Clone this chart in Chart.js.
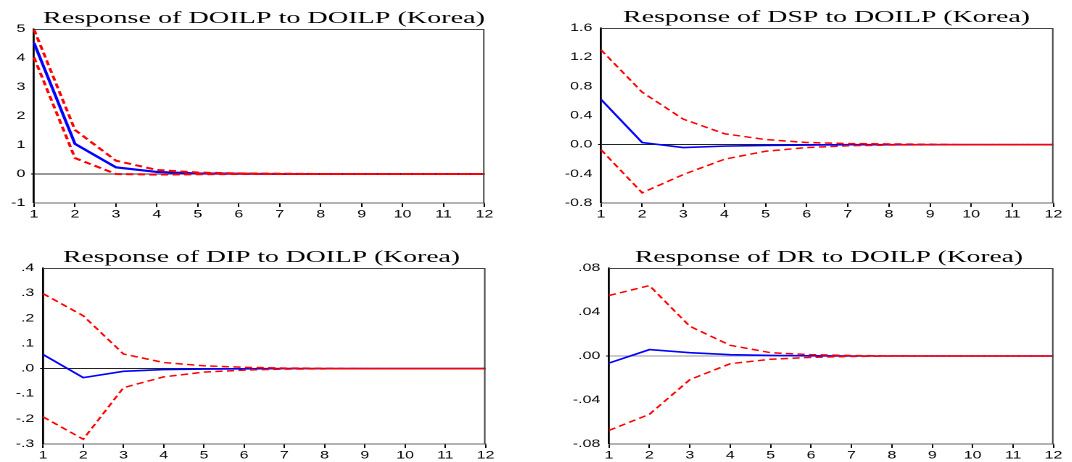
<!DOCTYPE html>
<html>
<head>
<meta charset="utf-8">
<script src="https://cdn.jsdelivr.net/npm/chart.js@4/dist/chart.umd.min.js"></script>
<style>
  html, body { margin: 0; padding: 0; background: #fff; }
  body { width: 1072px; height: 462px; position: relative; overflow: hidden; }
  .wrap { position: absolute; transform-origin: 0 0; }
</style>
</head>
<body>
<div class="wrap" id="w1"><canvas id="c1"></canvas></div>
<div class="wrap" id="w2"><canvas id="c2"></canvas></div>
<div class="wrap" id="w3"><canvas id="c3"></canvas></div>
<div class="wrap" id="w4"><canvas id="c4"></canvas></div>
<script>
// periods after the shock
var periods = ['1', '2', '3', '4', '5', '6', '7', '8', '9', '10', '11', '12'];

// response of DOILP
var doilpResp  = [4.52, 1.04, 0.23, 0.07, 0.02, 0.01, 0, 0, 0, 0, 0, 0];
var doilpUpper = [4.98, 1.52, 0.46, 0.14, 0.05, 0.02, 0.01, 0, 0, 0, 0, 0];
var doilpLower = [4.02, 0.55, 0.0, -0.02, -0.01, 0, 0, 0, 0, 0, 0, 0];
var doilpTicks = ['-1', '0', '1', '2', '3', '4', '5'];

// response of DSP
var dspResp  = [0.62, 0.03, -0.04, -0.02, -0.01, -0.005, 0, 0, 0, 0, 0, 0];
var dspUpper = [1.30, 0.72, 0.35, 0.15, 0.07, 0.03, 0.015, 0.01, 0.005, 0, 0, 0];
var dspLower = [-0.07, -0.66, -0.41, -0.20, -0.09, -0.04, -0.015, -0.005, 0, 0, 0, 0];
var dspTicks = ['-0.8', '-0.4', '0.0', '0.4', '0.8', '1.2', '1.6'];

// response of DIP
var dipResp  = [0.056, -0.036, -0.011, -0.004, -0.002, -0.001, 0, 0, 0, 0, 0, 0];
var dipUpper = [0.298, 0.21, 0.058, 0.024, 0.011, 0.005, 0.002, 0.001, 0, 0, 0, 0];
var dipLower = [-0.192, -0.281, -0.076, -0.033, -0.014, -0.006, -0.002, -0.001, 0, 0, 0, 0];
var dipTicks = ['-.3', '-.2', '-.1', '.0', '.1', '.2', '.3', '.4'];

// response of DR
var drResp  = [-0.0064, 0.0058, 0.003, 0.0012, 0.0005, 0.0002, 0, 0, 0, 0, 0, 0];
var drUpper = [0.055, 0.064, 0.027, 0.0097, 0.003, 0.0012, 0.0004, 0.0001, 0, 0, 0, 0];
var drLower = [-0.0676, -0.053, -0.0215, -0.007, -0.003, -0.0012, -0.0004, 0, 0, 0, 0, 0];
var drTicks = ['-.08', '-.04', '.00', '.04', '.08'];

// the source picture is stretched sideways, so is this one
var S = 1.45;

Chart.defaults.font.family = '"Liberation Sans", Arial, sans-serif';
Chart.defaults.font.size = 11;
Chart.defaults.color = '#000';

function MontaPainel(n, box, plot, titulo, tickLabels, yMin, yMax, passo, resp, upper, lower, corZero, espessura) {
    var wrap = document.getElementById('w' + n);
    wrap.style.left = box.x + 'px';
    wrap.style.top = box.y + 'px';
    wrap.style.transform = 'scaleX(' + S + ')';
    var canvas = document.getElementById('c' + n);
    canvas.width = Math.round(box.w / S);
    canvas.height = box.h;

    var tituloPlugin = {
        id: 'tituloPainel',
        afterDraw: function(chart) {
            var ctx = chart.ctx, ca = chart.chartArea;
            ctx.save();
            // frame: top and right
            ctx.strokeStyle = '#444';
            ctx.lineWidth = 1;
            ctx.beginPath();
            ctx.moveTo(ca.left, ca.top + 0.5);
            ctx.lineTo(ca.right - 0.5, ca.top + 0.5);
            ctx.lineTo(ca.right - 0.5, ca.bottom);
            ctx.stroke();
            // title, stretched to the width it has in the source
            ctx.fillStyle = '#000';
            ctx.font = '17px "Liberation Serif", "Times New Roman", serif';
            ctx.textAlign = 'left';
            ctx.textBaseline = 'alphabetic';
            var largura = ctx.measureText(titulo).width;
            var fator = (plot.tw / S) / largura;
            ctx.translate((plot.tx - box.x) / S, ca.top - 6);
            ctx.scale(fator, 1);
            ctx.fillText(titulo, 0, 0);
            ctx.restore();
        }
    };

    new Chart(canvas, {
        type: 'line',
        data: {
            labels: periods,
            datasets: [
                { data: upper, borderColor: '#ff0000', borderWidth: espessura, borderDash: [5, 3], pointRadius: 0, fill: false, tension: 0 },
                { data: lower, borderColor: '#ff0000', borderWidth: espessura, borderDash: [5, 3], pointRadius: 0, fill: false, tension: 0 },
                { data: resp, borderColor: '#0000ff', borderWidth: espessura + 0.1, pointRadius: 0, fill: false, tension: 0 }
            ]
        },
        options: {
            responsive: false,
            animation: false,
            devicePixelRatio: 2,
            layout: { padding: { left: 0, top: plot.t - box.y, right: (box.x + box.w - plot.r) / S, bottom: 0 } },
            plugins: { legend: { display: false }, tooltip: { enabled: false } },
            scales: {
                x: {
                    offset: false,
                    afterFit: function(s) { s.height = box.y + box.h - plot.b; },
                    border: { display: true, color: '#666', width: 1 },
                    grid: { drawOnChartArea: false, tickLength: 4, tickColor: '#000' },
                    ticks: { autoSkip: false, maxRotation: 0, padding: 1 }
                },
                y: {
                    min: yMin,
                    max: yMax,
                    afterFit: function(s) { s.width = (plot.l - box.x) / S; },
                    border: { display: true, color: '#000', width: 1.4 },
                    grid: {
                        drawOnChartArea: true,
                        tickLength: 2,
                        tickColor: '#000',
                        color: function(c) { return Math.abs(c.tick.value) < 1e-9 ? corZero : 'rgba(0,0,0,0)'; },
                        lineWidth: function(c) { return Math.abs(c.tick.value) < 1e-9 ? 1 : 0; }
                    },
                    ticks: {
                        stepSize: passo,
                        padding: 4,
                        callback: function(v, i) { return tickLabels[i]; }
                    }
                }
            }
        },
        plugins: [tituloPlugin]
    });
}

MontaPainel(1, { x: 0, y: 0, w: 536, h: 231 }, { l: 34, r: 484, t: 29, b: 203, tx: 43, tw: 442 },
    'Response of DOILP to DOILP (Korea)', doilpTicks, -1, 5, 1, doilpResp, doilpUpper, doilpLower, '#333', 2);
MontaPainel(2, { x: 536, y: 0, w: 536, h: 231 }, { l: 601, r: 1053, t: 28, b: 203, tx: 623, tw: 407 },
    'Response of DSP to DOILP (Korea)', dspTicks, -0.8, 1.6, 0.4, dspResp, dspUpper, dspLower, '#222', 1.5);
MontaPainel(3, { x: 0, y: 231, w: 536, h: 231 }, { l: 43, r: 485, t: 268, b: 444, tx: 63, tw: 397 },
    'Response of DIP to DOILP (Korea)', dipTicks, -0.3, 0.4, 0.1, dipResp, dipUpper, dipLower, '#222', 1.5);
MontaPainel(4, { x: 536, y: 231, w: 536, h: 231 }, { l: 609, r: 1053, t: 268, b: 444, tx: 635, tw: 388 },
    'Response of DR to DOILP (Korea)', drTicks, -0.08, 0.08, 0.04, drResp, drUpper, drLower, '#999', 1.5);
</script>
</body>
</html>
